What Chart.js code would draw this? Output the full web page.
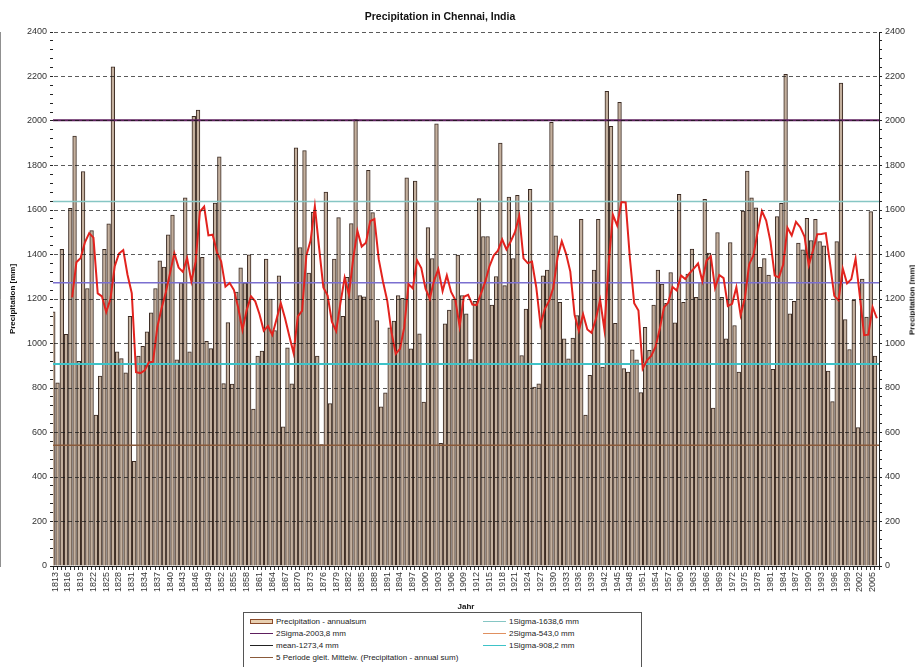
<!DOCTYPE html>
<html>
<head>
<meta charset="utf-8">
<script src="https://cdn.jsdelivr.net/npm/chart.js@4.4.1/dist/chart.umd.min.js"></script>
<style>
  html, body { margin: 0; padding: 0; background: #fff; }
  #wrap { position: relative; width: 915px; height: 667px; overflow: hidden; }
  #title {
    position: absolute; left: 440px; top: 16px; transform: translate(-50%, -50%);
    font: bold 10.5px 'Liberation Sans', Arial, sans-serif; color: #111; white-space: nowrap;
  }
  #legend {
    position: absolute; left: 243px; top: 612px; width: 397px; height: 60px;
    border: 1px solid #555; background: #fff;
    font: 8px 'Liberation Sans', Arial, sans-serif; color: #222;
  }
  .item { position: absolute; display: flex; align-items: center; white-space: nowrap; height: 10px; }
  .sw { width: 23px; margin-right: 3px; }
  #rtitle {
    position: absolute; left: 912px; top: 300px; transform: translate(-50%, -50%) rotate(-90deg);
    font: bold 8px 'Liberation Sans', Arial, sans-serif; color: #111; white-space: nowrap;
  }
</style>
</head>
<body>
<div id="wrap">
  <canvas id="c" width="915" height="667"></canvas>
  <div id="title">Precipitation in Chennai, India</div>
  <div id="legend"></div>
  <div id="rtitle">Precipitation [mm]</div>
</div>
<script>
const firstYear = 1813;
const lastYear = 2006;
const labelStep = 3;

// annual sums, 1813..2006
const precip = [
  1142, 823, 1423, 1041, 1608, 1932, 920, 1773, 1247, 1507, 678, 854, 1423, 1538, 2244, 963, 932, 868, 1122, 470, 943, 987, 1052, 1138, 1247,
  1371, 1343, 1488, 1577, 927, 1273, 1655, 963, 2021, 2049, 1387, 1010, 977, 1631, 1839, 820, 1094, 818, 1231, 1340, 1273, 1398, 705, 943, 966, 1379,
  1200, 1058, 1304, 625, 980, 819, 1879, 1431, 1867, 1316, 1590, 943, 546, 1681, 730, 1379, 1566, 1122, 1297, 1539, 2006, 1215, 1210, 1778, 1588,
  1103, 715, 778, 1070, 1101, 1215, 1203, 1745, 976, 1730, 1043, 737, 1521, 1382, 1987, 551, 1088, 1150, 1200, 1397, 1215, 1133, 928, 1190,
  1651, 1481, 1481, 1173, 1301, 1901, 1260, 1658, 1382, 1666, 946, 1155, 1693, 804, 819, 1304, 1330, 1994, 1484, 1185, 1021, 931, 1024, 1125, 1558,
  678, 857, 1330, 1558, 894, 2133, 1976, 1091, 2084, 887, 872, 972, 927, 779, 1073, 969, 1173, 1330, 1267, 1181, 1319, 1093, 1670, 1185,
  1312, 1424, 1207, 1275, 1648, 1406, 710, 1499, 1207, 1021, 1454, 1081, 872, 1595, 1775, 1655, 1610, 1342, 1382, 1307, 884, 1570, 1630, 2210, 1133,
  1190, 1451, 1421, 1563, 1463, 1558, 1458, 1439, 876, 739, 1458, 2170, 1107, 973, 1194, 622, 1290, 1119, 1593, 943
];

const refLabels = ['1Sigma-1638,6 mm', '2Sigma-2003,8 mm', '2Sigma-543,0 mm', 'mean-1273,4 mm', '1Sigma-908,2 mm'];
const refValues = [1638.6, 2003.8, 543.0, 1273.4, 908.2];
const refColors = ['#86c6c4', '#5e1f5e', '#8a5a3a', '#7b6fd0', '#3ec3c8'];
const refWidths = [1.5, 2, 1.5, 1.5, 2];

const yTicks = [0, 200, 400, 600, 800, 1000, 1200, 1400, 1600, 1800, 2000, 2200, 2400];

const maLabel = '5 Periode gleit. Mittelw. (Precipitation - annual sum)';
const barLabel = 'Precipitation - annualsum';
const FONT = "'Liberation Sans', Arial, sans-serif";

const years = [];
for (let y = firstYear; y <= lastYear; y++) years.push(String(y));

// Excel style trailing 5 period moving average trendline
const movingAvg = precip.map((v, i) => {
  if (i < 4) return null;
  const win = precip.slice(i - 4, i + 1);
  return win.reduce((a, b) => a + b, 0) / 5;
});

const refSets = refValues.map((v, i) => ({
  type: 'line',
  label: refLabels[i],
  xAxisID: 'xRef',
  data: [{ x: 0, y: v }, { x: 1, y: v }],
  borderColor: refColors[i],
  borderWidth: refWidths[i],
  pointRadius: 0,
  order: 1
}));

const tickFont = { family: FONT, size: 9 };

new Chart(document.getElementById('c'), {
  type: 'bar',
  data: {
    labels: years,
    datasets: [
      {
        type: 'line',
        label: maLabel,
        data: movingAvg,
        borderColor: '#e2231e',
        borderWidth: 2,
        pointRadius: 0,
        tension: 0,
        order: 0
      },
      ...refSets,
      {
        label: barLabel,
        data: precip,
        backgroundColor: '#c4b09e',
        borderColor: '#3a2a22',
        borderWidth: 1,
        borderSkipped: 'bottom',
        barThickness: 3.7,
        order: 2
      }
    ]
  },
  options: {
    responsive: false,
    animation: false,
    layout: { padding: { left: 4, right: 0, top: 32, bottom: 55 } },
    plugins: {
      legend: { display: false },
      tooltip: { enabled: false },
      title: { display: false }
    },
    scales: {
      x: {
        offset: true,
        grid: { drawOnChartArea: false, tickLength: 4, tickColor: '#333' },
        border: { color: '#222' },
        ticks: {
          autoSkip: false, minRotation: 90, maxRotation: 90, padding: 2,
          color: '#333', font: tickFont,
          callback: (v, i) => (i % labelStep === 0 ? years[i] : '')
        },
        title: { display: true, text: 'Jahr', color: '#111', font: { family: FONT, size: 8, weight: 'bold' }, padding: 0 },
        afterFit: s => { s.height = 46; }
      },
      xRef: { type: 'linear', min: 0, max: 1, offset: false, display: false },
      y: {
        position: 'left', min: 0, max: 2400,
        ticks: {
          stepSize: 40, autoSkip: false, padding: 3, color: '#333', font: tickFont,
          callback: v => (yTicks.includes(v) ? v : '')
        },
        grid: {
          z: 1,
          color: ctx => (ctx.tick && yTicks.includes(ctx.tick.value) ? 'rgba(20,20,20,0.7)' : 'transparent'),
          tickColor: '#222', tickLength: 3
        },
        border: { color: '#222', dash: [4, 3] },
        title: { display: true, text: 'Precipitation [mm]', color: '#111', font: { family: FONT, size: 8, weight: 'bold' } },
        afterFit: s => { s.width = 49; }
      },
      y2: {
        position: 'right', min: 0, max: 2400,
        ticks: {
          stepSize: 40, autoSkip: false, padding: 3, color: '#333', font: tickFont,
          callback: v => (yTicks.includes(v) ? v : '')
        },
        grid: { drawOnChartArea: false, tickColor: '#222', tickLength: 3 },
        border: { color: '#222' },
        afterFit: s => { s.width = 36; }
      }
    }
  }
});

// legend in two columns like the original
const legendItems = [
  { text: barLabel, col: 0, row: 0, box: true },
  { text: refLabels[1], col: 0, row: 1, color: refColors[1] },
  { text: refLabels[3], col: 0, row: 2, color: '#222' },
  { text: maLabel, col: 0, row: 3, color: '#8a5a3a' },
  { text: refLabels[0], col: 1, row: 0, color: refColors[0] },
  { text: refLabels[2], col: 1, row: 1, color: '#e09060' },
  { text: refLabels[4], col: 1, row: 2, color: refColors[4] }
];
const legend = document.getElementById('legend');
legendItems.forEach(it => {
  const d = document.createElement('div');
  d.className = 'item';
  d.style.left = (it.col === 0 ? 6 : 239) + 'px';
  d.style.top = (3 + it.row * 12) + 'px';
  const sw = document.createElement('span');
  sw.className = 'sw';
  if (it.box) {
    sw.style.height = '3px';
    sw.style.border = '1px solid #8a4a2a';
    sw.style.background = '#e8cfb0';
    sw.style.width = '21px';
  } else {
    sw.style.height = '0';
    sw.style.borderTop = '1.5px solid ' + it.color;
  }
  d.appendChild(sw);
  d.appendChild(document.createTextNode(it.text));
  legend.appendChild(d);
});
</script>
</body>
</html>
